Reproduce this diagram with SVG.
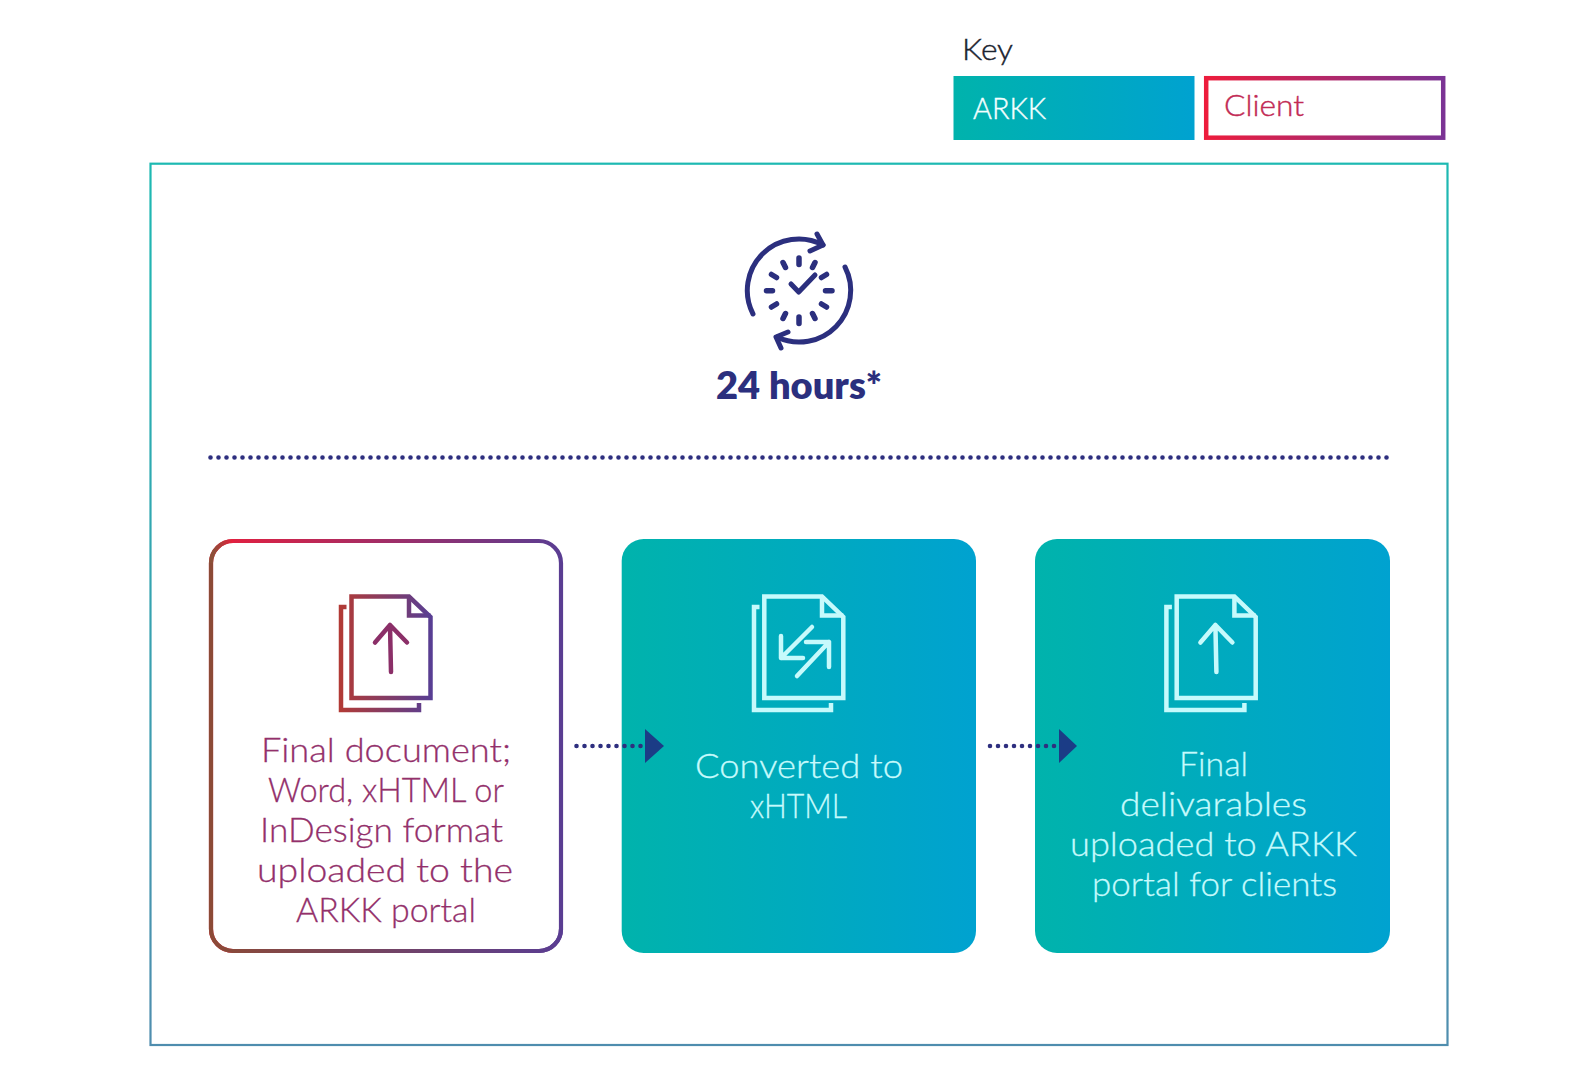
<svg xmlns="http://www.w3.org/2000/svg" width="1594" height="1078" viewBox="0 0 1594 1078">
<defs>
<linearGradient id="tealBlue" x1="0" y1="0" x2="1" y2="0"><stop offset="0" stop-color="#00B3AC"/><stop offset="1" stop-color="#00A2D0"/></linearGradient>
<linearGradient id="frameGrad" x1="0" y1="0" x2="0" y2="1"><stop offset="0" stop-color="#1DB9B2"/><stop offset="1" stop-color="#4F8DAE"/></linearGradient>
<linearGradient id="redPurple" x1="0" y1="0" x2="1" y2="0"><stop offset="0" stop-color="#ED1C3C"/><stop offset="1" stop-color="#7B3394"/></linearGradient>
<linearGradient id="boxStroke" x1="0" y1="0" x2="1" y2="0"><stop offset="0" stop-color="#E81E3C"/><stop offset="1" stop-color="#5A3D92"/></linearGradient>
<linearGradient id="boxBottom" gradientUnits="userSpaceOnUse" x1="211" y1="0" x2="561" y2="0"><stop offset="0" stop-color="#8C4A36"/><stop offset="1" stop-color="#5A3D92"/></linearGradient>
<linearGradient id="boxCorner" gradientUnits="userSpaceOnUse" x1="213" y1="0" x2="233" y2="0"><stop offset="0" stop-color="#8C5038"/><stop offset="1" stop-color="#E81E3C"/></linearGradient>
<linearGradient id="iconStroke" gradientUnits="userSpaceOnUse" x1="340" y1="0" x2="432" y2="0"><stop offset="0" stop-color="#B23A35"/><stop offset="1" stop-color="#573E94"/></linearGradient>
</defs>
<style>
text{font-family:"Lato","Noto Sans","Liberation Sans",sans-serif;font-weight:300}
.lbl{font-size:34px;stroke-width:.3px}
.pink{fill:#93306B;stroke:#93306B}
.cyan{fill:#C6FAFC;stroke:#C6FAFC}
.key{font-size:29px;font-weight:300;stroke-width:.4px}
.doc{fill:none;stroke-width:4.5;stroke-linejoin:miter}
.arrowline{fill:none;stroke-width:4.5;stroke-linecap:round;stroke-linejoin:round}
.dots{fill:none;stroke:#2E2F7F;stroke-width:4.6;stroke-linecap:round;stroke-dasharray:0 8}
.clk{fill:none;stroke:#2B2F7E;stroke-width:5;stroke-linecap:round;stroke-linejoin:round}
.ticks{fill:none;stroke:#2B2F7E;stroke-width:5.500;stroke-linecap:round}
.edge{fill:none;stroke-width:4.200}
</style>

<rect x="150.500" y="163.700" width="1297" height="881.300" fill="none" stroke="url(#frameGrad)" stroke-width="2.200"/>

<g id="key">
<text class="key" x="962" y="60" fill="#1B2430" textLength="51" lengthAdjust="spacingAndGlyphs" stroke="#1B2430">Key</text>
</g>
<g id="key-arkk">
<rect x="953.500" y="76" width="241" height="64" fill="url(#tealBlue)"/>
<text class="key" x="973" y="119" fill="#F4FFFF" stroke="#F4FFFF" textLength="73" lengthAdjust="spacingAndGlyphs">ARKK</text>
</g>
<g id="key-client">
<rect x="1206.200" y="78.200" width="237" height="59.500" fill="#fff" stroke="url(#redPurple)" stroke-width="4.500"/>
<text class="key" x="1224" y="116" fill="#C22A55" stroke="#C22A55" textLength="80" lengthAdjust="spacingAndGlyphs">Client</text>
</g>

<g id="duration">
<g class="clk">
<path d="M753 314A51.500 51.500 0 0 1 823 245"/>
<path d="M817 234L823 245L810 251"/>
<path d="M845 267A51.500 51.500 0 0 1 777 337"/>
<path d="M788 332L776 337L781 348"/>
<path d="M791 284L798.700 292L815 275"/>
</g>
<path class="ticks" d="M799 258V264.500M799 317V323.500M766.500 290.700H772.500M825.500 290.700H832M783 262.500L785.500 267.500M812.500 313.500L815 318.500M771.500 274.500L776.500 277.500M821.500 304L826.500 307M815 262.500L812.500 267.500M785.500 313.500L783 318.500M826.500 274.500L821.500 277.500M776.500 304L771.500 307"/>
<text x="716" y="398.500" fill="#2B2F7E" style="font-size:38px;font-weight:800" textLength="166" lengthAdjust="spacingAndGlyphs">24 hours*</text>
</g>

<path class="dots" d="M210.500 457.500H1390"/>

<g id="step-1">
<rect x="211" y="541" width="350" height="410" rx="22" fill="#fff" stroke="url(#boxStroke)" stroke-width="4.200"/>
<path class="edge" stroke="url(#boxCorner)" d="M233 541A22 22 0 0 0 211 563"/>
<path class="edge" stroke="url(#boxBottom)" d="M211 563V929A22 22 0 0 0 233 951H539A22 22 0 0 0 561 929"/>
<g stroke="url(#iconStroke)">
<path class="doc" d="M351.500 596.500H409L430.500 617V698H351.500Z"/>
<path class="doc" d="M409 596.500V615.500H430.500"/>
<path class="doc" d="M346.500 607H341V710H419V703"/>
</g>
<g stroke="#8B2F68"><path class="arrowline" d="M391 672L390 625M375 642.500L390 625L407 642.500"/></g>
<g class="lbl pink">
<text x="261" y="761.500" textLength="250" lengthAdjust="spacingAndGlyphs">Final document;</text>
<text x="268" y="802" textLength="236" lengthAdjust="spacingAndGlyphs">Word, xHTML or</text>
<text x="260" y="842" textLength="243" lengthAdjust="spacingAndGlyphs">InDesign format</text>
<text x="257" y="881.500" textLength="256" lengthAdjust="spacingAndGlyphs">uploaded to the</text>
<text x="296" y="921.500" textLength="180" lengthAdjust="spacingAndGlyphs">ARKK portal</text>
</g>
</g>

<g id="step-2">
<rect x="621.700" y="539" width="354.300" height="414" rx="22" fill="url(#tealBlue)"/>
<g stroke="#C6FAFC">
<path class="doc" d="M764.300 596.500H822L843.300 617V698H764.300Z"/>
<path class="doc" d="M822 596.500V615.500H843.300"/>
<path class="doc" d="M759.500 607H754V710H831V703"/>
<path class="arrowline" d="M812 627L781 658M781 636V658H803M797 676L829 642M806 642H829V667"/>
</g>
<g class="lbl cyan">
<text x="695" y="778" textLength="208" lengthAdjust="spacingAndGlyphs">Converted to</text>
<text x="750" y="818" textLength="97" lengthAdjust="spacingAndGlyphs">xHTML</text>
</g>
</g>

<g id="step-3">
<rect x="1035" y="539" width="355" height="414" rx="22" fill="url(#tealBlue)"/>
<g stroke="#C6FAFC">
<path class="doc" d="M1176.700 596.500H1234.400L1255.700 617V698H1176.700Z"/>
<path class="doc" d="M1234.400 596.500V615.500H1255.700"/>
<path class="doc" d="M1171.900 607H1166.400V710H1244.400V703"/>
<path class="arrowline" d="M1216.400 672L1215.400 625M1200.400 642.500L1215.400 625L1232.400 642.500"/>
</g>
<g class="lbl cyan">
<text x="1179" y="776" textLength="69" lengthAdjust="spacingAndGlyphs">Final</text>
<text x="1120" y="816" textLength="187" lengthAdjust="spacingAndGlyphs">delivarables</text>
<text x="1070" y="856" textLength="287" lengthAdjust="spacingAndGlyphs">uploaded to ARKK</text>
<text x="1092" y="895.500" textLength="245" lengthAdjust="spacingAndGlyphs">portal for clients</text>
</g>
</g>

<g id="connectors">
<path class="dots" d="M576.500 746H646"/>
<path d="M645 729L664 746L645 763Z" fill="#1B3C86"/>
<path class="dots" d="M990 746H1058"/>
<path d="M1059 729L1077 746L1059 763Z" fill="#1B3C86"/>
</g>
</svg>
